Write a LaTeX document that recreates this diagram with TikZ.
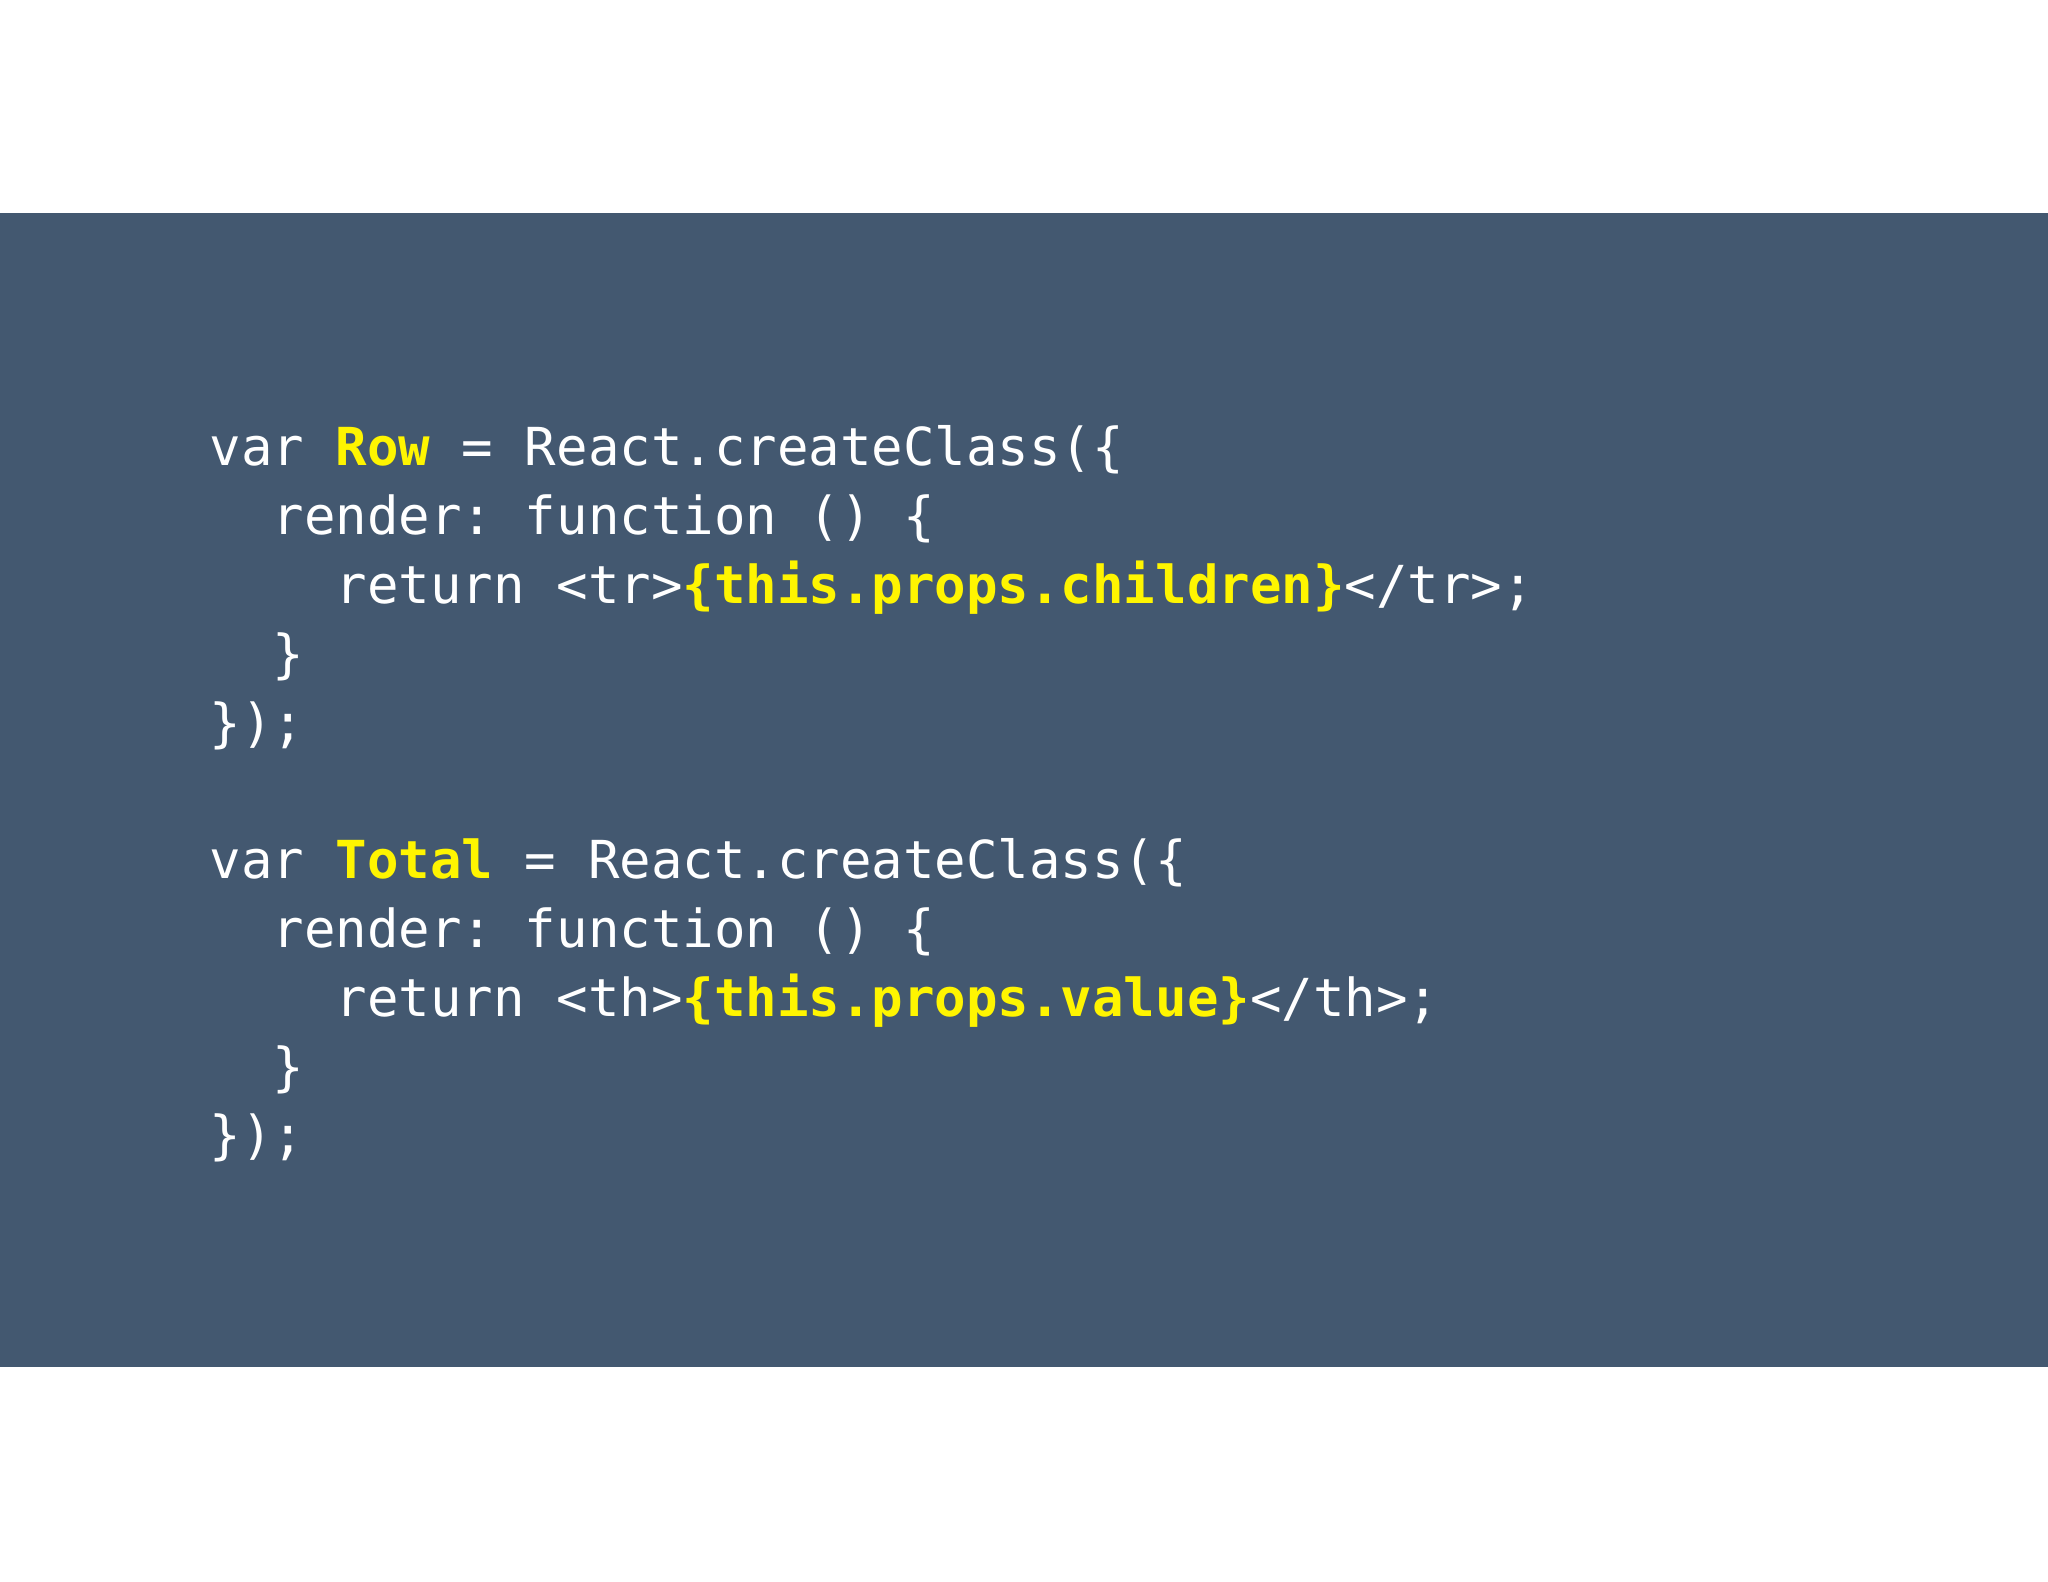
\documentclass[tikz,border=0pt]{standalone}
\usepackage{fontspec}
\setmonofont{DejaVu Sans Mono}
\definecolor{bg}{HTML}{435870}
\definecolor{hl}{HTML}{FFF500}
\begin{document}
\begin{tikzpicture}[x=1cm,y=1cm,
  code/.style={anchor=base west,inner sep=0pt,text=white,font=\fontsize{14.9pt}{18pt}\ttfamily}]
\useasboundingbox (0,0) rectangle (20.48,15.82);
\fill[white] (0,0) rectangle (20.48,15.82);
\fill[bg] (0,2.15) rectangle (20.48,13.69);
\newcommand{\hy}[1]{\textcolor{hl}{\bfseries #1}}
\def\lx{2.09}
\foreach \i/\t in {0/{var \hy{Row} = React.createClass(\{},
  1/{\ \ render: function () \{},
  2/{\ \ \ \ return <tr>\hy{\{this.props.children\}}</tr>;},
  3/{\ \ \}},
  4/{\});},
  6/{var \hy{Total} = React.createClass(\{},
  7/{\ \ render: function () \{},
  8/{\ \ \ \ return <th>\hy{\{this.props.value\}}</th>;},
  9/{\ \ \}},
  10/{\});}}
  \node[code] (l\i) at (\lx,11.16-0.688*\i) {\t};
\end{tikzpicture}
\end{document}
